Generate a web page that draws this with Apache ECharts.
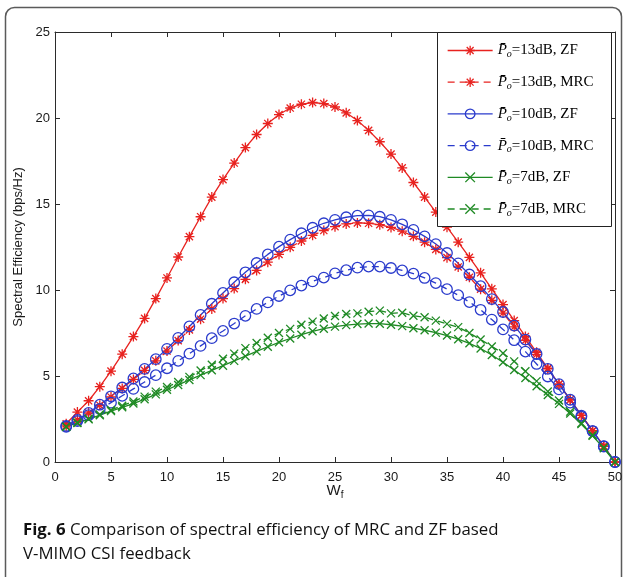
<!DOCTYPE html>
<html>
<head>
<meta charset="utf-8">
<script src="https://cdn.jsdelivr.net/npm/echarts@6/dist/echarts.min.js"></script>
<style>
html,body{margin:0;padding:0;background:#fff;}
#chart{width:626px;height:577px;}
</style>
</head>
<body>
<div id="chart"></div>
<script>
// ---- data ----
const Wf = [1,2,3,4,5,6,7,8,9,10,11,12,13,14,15,16,17,18,19,20,21,22,23,24,25,26,27,28,29,30,31,32,33,34,35,36,37,38,39,40,41,42,43,44,45,46,47,48,49,50];
const zf13 = [2.22,2.9,3.56,4.38,5.28,6.27,7.29,8.35,9.5,10.7,11.92,13.1,14.26,15.4,16.42,17.38,18.28,19.04,19.68,20.2,20.58,20.8,20.9,20.84,20.64,20.3,19.85,19.28,18.62,17.9,17.1,16.25,15.4,14.53,13.65,12.78,11.9,11.0,10.07,9.15,8.22,7.3,6.38,5.45,4.53,3.62,2.72,1.82,0.92,0];
const mrc13 = [2.1,2.45,2.85,3.3,3.78,4.28,4.8,5.33,5.88,6.45,7.06,7.68,8.3,8.9,9.5,10.08,10.62,11.14,11.62,12.07,12.48,12.85,13.18,13.46,13.68,13.84,13.9,13.88,13.8,13.64,13.42,13.12,12.78,12.36,11.88,11.34,10.74,10.05,9.4,8.66,7.86,7.07,6.26,5.41,4.52,3.62,2.71,1.81,0.91,0];
const zf10 = [2.1,2.45,2.86,3.33,3.82,4.33,4.86,5.41,5.98,6.58,7.22,7.88,8.55,9.2,9.83,10.45,11.03,11.57,12.07,12.52,12.93,13.3,13.62,13.88,14.08,14.23,14.32,14.34,14.26,14.08,13.82,13.5,13.12,12.67,12.15,11.55,10.9,10.22,9.47,8.72,7.93,7.12,6.28,5.42,4.53,3.62,2.7,1.8,0.9,0];
const mrc10 = [2.05,2.38,2.72,3.08,3.45,3.85,4.25,4.65,5.05,5.45,5.88,6.3,6.75,7.2,7.62,8.05,8.5,8.9,9.28,9.65,9.98,10.26,10.5,10.72,10.97,11.15,11.3,11.36,11.36,11.28,11.14,10.95,10.7,10.4,10.05,9.7,9.3,8.85,8.28,7.71,7.08,6.42,5.7,4.97,4.22,3.45,2.63,1.8,0.92,0];
const zf7 = [2.05,2.27,2.48,2.72,2.96,3.18,3.4,3.65,3.93,4.2,4.48,4.77,5.05,5.33,5.6,5.88,6.15,6.43,6.7,6.96,7.18,7.4,7.6,7.75,7.87,7.96,8.02,8.05,8.04,7.98,7.9,7.78,7.66,7.52,7.35,7.14,6.9,6.6,6.22,5.8,5.35,4.88,4.4,3.9,3.38,2.82,2.2,1.52,0.8,0];
const mrc7 = [2.05,2.3,2.52,2.77,3.02,3.27,3.52,3.8,4.09,4.36,4.65,4.95,5.32,5.65,6.0,6.3,6.62,6.92,7.22,7.5,7.74,7.98,8.16,8.34,8.49,8.6,8.64,8.74,8.8,8.64,8.68,8.5,8.42,8.22,8.03,7.84,7.5,7.12,6.72,6.32,5.85,5.28,4.7,4.1,3.58,2.93,2.25,1.57,0.85,0];
const powers = ['13','13','10','10','7','7'];
const schemes = ['ZF','MRC','ZF','MRC','ZF','MRC'];
const xTicks = {min:0, max:50, step:5};
const yTicks = {min:0, max:25, step:5};
const yName = 'Spectral Efficiency (bps/Hz)';
const captionBold = 'Fig. 6';
const captionLine1 = ' Comparison of spectral efficiency of MRC and ZF based';
const captionLine2 = 'V-MIMO CSI feedback';

// ---- styles ----
const RED = '#e8221f', BLUE = '#2a3bcc', GREEN = '#1f8a24';
const STAR = 'path://M0,-1L0,1M-1,0L1,0M-0.72,-0.72L0.72,0.72M-0.72,0.72L0.72,-0.72';
const CROSS = 'path://M-1,-1L1,1M-1,1L1,-1';
const seriesValues = [zf13, mrc13, zf10, mrc10, zf7, mrc7];
const seriesColors = [RED, RED, BLUE, BLUE, GREEN, GREEN];
const seriesSymbols = [STAR, STAR, 'circle', 'circle', CROSS, CROSS];
const seriesSymbolSize = [10, 10, 10.5, 10.5, 8, 8];

const names = powers.map((p, i) => 'Po=' + p + 'dB, ' + schemes[i]);

// caption font fitting to the reference width
const capFamily = 'Open Sans';
function measure(txt, weight, size) {
  const c = document.createElement('canvas').getContext('2d');
  c.font = weight + ' ' + size + 'px "' + capFamily + '"';
  return c.measureText(txt).width;
}
const baseSize = 20;
const w1 = measure(captionBold, 'bold', baseSize) + measure(captionLine1, 'normal', baseSize);
const capSize = Math.min(21, baseSize * 476 / w1);

const axisCommon = {
  type: 'value',
  axisLine: {show: true, onZero: false, lineStyle: {color: '#2b2b2b', width: 1}},
  axisTick: {show: true, inside: true, length: 5, lineStyle: {color: '#2b2b2b', width: 1}},
  splitLine: {show: false}
};
const tickLabel = {color: '#1a1a1a', fontSize: 13, fontFamily: 'Liberation Sans'};

const chart = echarts.init(document.getElementById('chart'), null, {renderer: 'canvas'});
const option = {
  animation: false,
  backgroundColor: '#fff',
  grid: {left: 55, right: 11, top: 32, bottom: 115},
  xAxis: [
    Object.assign({}, axisCommon, {
      min: xTicks.min, max: xTicks.max, interval: xTicks.step, position: 'bottom',
      axisLabel: Object.assign({margin: 9}, tickLabel),
      name: '{w|W}{f|f}', nameLocation: 'middle', nameGap: 20, nameMoveOverlap: false,
      nameTextStyle: {rich: {
        w: {fontSize: 15, fontFamily: 'Liberation Sans', color: '#1a1a1a', lineHeight: 18, verticalAlign: 'middle'},
        f: {fontSize: 10, fontFamily: 'Liberation Sans', color: '#1a1a1a', lineHeight: 8, verticalAlign: 'bottom'}
      }}
    }),
    Object.assign({}, axisCommon, {
      min: xTicks.min, max: xTicks.max, interval: xTicks.step, position: 'top',
      axisLabel: {show: false}
    })
  ],
  yAxis: [
    Object.assign({}, axisCommon, {
      min: yTicks.min, max: yTicks.max, interval: yTicks.step, position: 'left',
      axisLabel: Object.assign({margin: 5}, tickLabel),
      name: yName, nameLocation: 'middle', nameGap: 29,
      nameTextStyle: {fontSize: 13, fontFamily: 'Liberation Sans', color: '#1a1a1a'}
    }),
    Object.assign({}, axisCommon, {
      min: yTicks.min, max: yTicks.max, interval: yTicks.step, position: 'right',
      axisLabel: {show: false}
    })
  ],
  legend: {
    show: true, orient: 'vertical', left: 447, top: 43, padding: 0,
    itemWidth: 45, itemHeight: 12, itemGap: 15.2, selectedMode: false,
    data: names, z: 20,
    itemStyle: {borderWidth: 1.3},
    lineStyle: {width: 1.3},
    formatter: function (name) {
      const i = names.indexOf(name);
      return '{p|P\u0304}{o|o}{t|=' + powers[i] + 'dB, ' + schemes[i] + '}';
    },
    textStyle: {
      fontFamily: 'Liberation Serif', fontSize: 15, color: '#000',
      rich: {
        p: {fontFamily: 'Liberation Serif', fontStyle: 'italic', fontSize: 15, color: '#000', lineHeight: 18, verticalAlign: 'middle'},
        o: {fontFamily: 'Liberation Serif', fontStyle: 'italic', fontSize: 10, color: '#000', lineHeight: 9, verticalAlign: 'bottom'},
        t: {fontFamily: 'Liberation Serif', fontSize: 15, color: '#000', lineHeight: 18, verticalAlign: 'middle'}
      }
    }
  },
  graphic: [
    {type: 'rect', z: 0, silent: true,
     shape: {x: 5.5, y: 7.5, width: 616, height: 640, r: 9},
     style: {fill: 'none', stroke: '#5a5a5a', lineWidth: 1.5}},
    {type: 'rect', z: 10, silent: true,
     shape: {x: 437.5, y: 32.5, width: 174, height: 194},
     style: {fill: '#fff', stroke: '#222', lineWidth: 1}},
    {type: 'text', z: 10, silent: true, x: 23, y: 522,
     style: {
       text: '{b|' + captionBold + '}{r|' + captionLine1 + '}',
       rich: {
         b: {fontFamily: capFamily, fontWeight: 'bold', fontSize: capSize, fill: '#111'},
         r: {fontFamily: capFamily, fontWeight: 'normal', fontSize: capSize, fill: '#111'}
       }
     }},
    {type: 'text', z: 10, silent: true, x: 23, y: 546,
     style: {text: captionLine2, fontFamily: capFamily, fontSize: capSize, fill: '#111'}}
  ],
  series: names.map((n, i) => ({
    type: 'line', name: n, xAxisIndex: 0, yAxisIndex: 0,
    data: Wf.map((x, k) => [x, seriesValues[i][k]]),
    symbol: seriesSymbols[i], symbolSize: seriesSymbolSize[i],
    showAllSymbol: true, clip: false,
    lineStyle: {color: seriesColors[i], width: 1.3, type: i % 2 === 0 ? 'solid' : [7, 5]},
    itemStyle: {color: 'rgba(0,0,0,0)', borderColor: seriesColors[i], borderWidth: 1.3},
    emphasis: {disabled: true},
    z: 2
  }))
};
chart.setOption(option);
</script>
</body>
</html>
